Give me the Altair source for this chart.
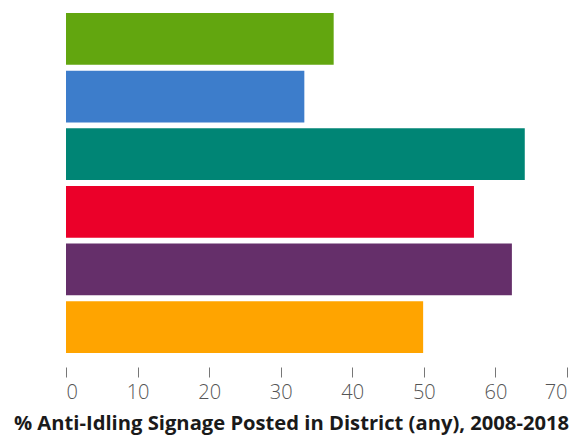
import altair as alt
import pandas as pd

categories = ["Group 1", "Group 2", "Group 3", "Group 4", "Group 5", "Group 6"]
values = [37.4, 33.3, 64.1, 57.0, 62.3, 49.9]
colors = ["#62a60f", "#3d7dcb", "#008575", "#eb0029", "#652f6a", "#ffa400"]
x_ticks = [0, 10, 20, 30, 40, 50, 60, 70]
title_text = "% Anti-Idling Signage Posted in District (any), 2008-2018"

df = pd.DataFrame({"cat": categories, "val": values})

chart = alt.Chart(df).mark_bar().encode(
    y=alt.Y("cat:N", sort=categories, axis=None,
            scale=alt.Scale(paddingInner=0.1, paddingOuter=0)),
    x=alt.X("val:Q",
            scale=alt.Scale(domain=[0, 70], nice=False),
            axis=alt.Axis(values=x_ticks, title=title_text, grid=False, domain=False,
                          offset=14, tickSize=10, tickColor="#777", tickWidth=1,
                          labelPadding=5, labelFontSize=20, labelFont="Open Sans",
                          labelFontWeight=300, labelColor="#555",
                          titleFont="Open Sans", titleFontSize=20.2, titleFontWeight="bold",
                          titleColor="#1a1a1a", titlePadding=11,
                          titleX=225, titleAlign="center")),
    color=alt.Color("cat:N", sort=categories,
                    scale=alt.Scale(domain=categories, range=colors), legend=None),
).properties(
    width=501, height=340,
    padding={"left": 5, "top": 5, "right": 0, "bottom": 2},
).configure_view(stroke=None)

chart.save("out.html", embed_options={"renderer": "svg", "actions": False})
